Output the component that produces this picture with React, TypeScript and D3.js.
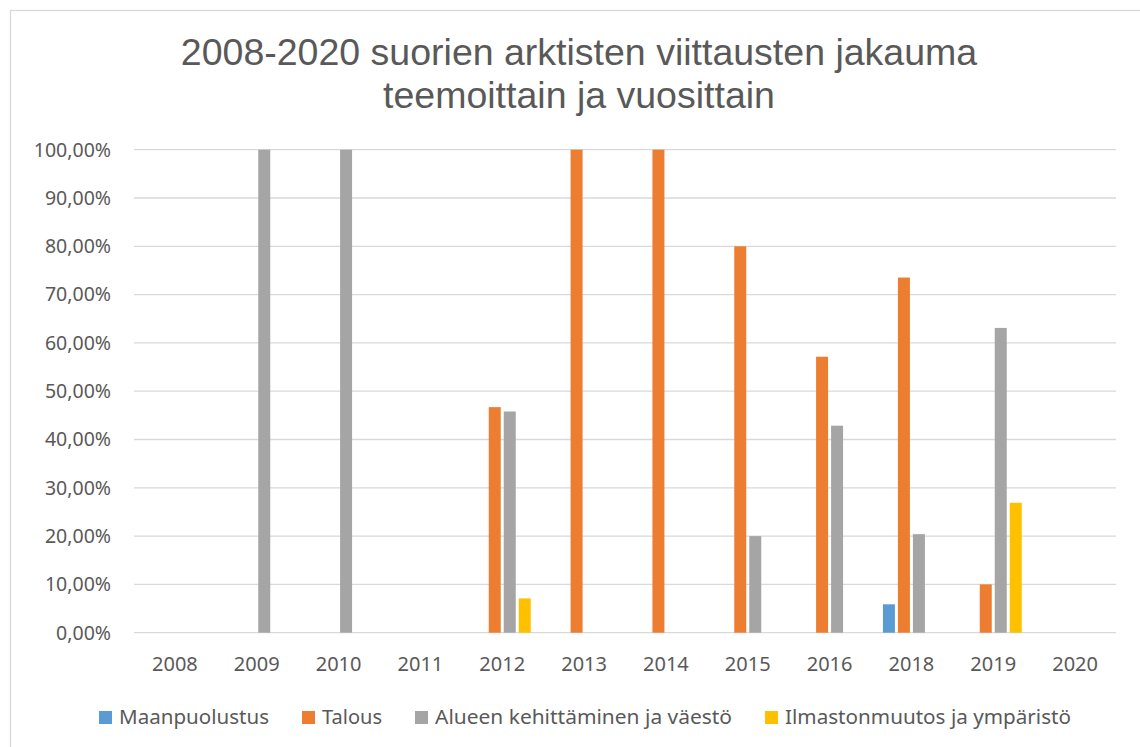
import React, { useRef, useEffect } from "react";
import * as d3 from "d3";

const years = ["2008", "2009", "2010", "2011", "2012", "2013", "2014", "2015", "2016", "2018", "2019", "2020"];

const seriesNames = ["Maanpuolustus", "Talous", "Alueen kehittäminen ja väestö", "Ilmastonmuutos ja ympäristö"];
const seriesColors = ["#5B9BD5", "#ED7D31", "#A5A5A5", "#FFC000"];

// percent values per year, null = no bar
const maanpuolustus = [null, null, null, null, null, null, null, null, null, 5.88, null, null];
const talous = [null, null, null, null, 46.7, 100, 100, 80, 57.14, 73.53, 10, null];
const alueen = [null, 100, 100, null, 45.8, null, null, 20, 42.86, 20.4, 63.1, null];
const ilmasto = [null, null, null, null, 7.1, null, null, null, null, null, 26.9, null];

const yTicks = [0, 10, 20, 30, 40, 50, 60, 70, 80, 90, 100];

const titleLines = ["2008-2020 suorien arktisten viittausten jakauma", "teemoittain ja vuosittain"];

const App = () => {
  const svgRef = useRef(null);

  useEffect(() => {
    const svg = d3.select(svgRef.current);
    svg.selectAll("*").remove();

    const width = 1140;
    const height = 747;
    const margin = { top: 149.7, right: 24, bottom: 114.3, left: 134 };
    const textColor = "#595959";
    const font = "'Noto Sans', sans-serif";

    // chart frame (right and bottom edges fall outside the picture)
    svg
      .append("rect")
      .attr("x", 10.5)
      .attr("y", 10.5)
      .attr("width", 1140)
      .attr("height", 760)
      .attr("fill", "#fff")
      .attr("stroke", "#D9D9D9")
      .attr("stroke-width", 1.3);

    // title
    svg
      .append("g")
      .selectAll("text")
      .data(titleLines)
      .join("text")
      .attr("x", 579)
      .attr("y", (d, i) => 65 + i * 43)
      .attr("text-anchor", "middle")
      .attr("font-family", "'Liberation Sans', Arial, sans-serif")
      .attr("font-size", 37.5)
      .attr("fill", textColor)
      .text((d) => d);

    const x = d3
      .scaleBand()
      .domain(years)
      .range([margin.left, width - margin.right]);

    const x1 = d3.scaleBand().domain(seriesNames).range([-28.5, 28.5]).paddingInner(0.2);

    const y = d3
      .scaleLinear()
      .domain([0, 100])
      .range([height - margin.bottom, margin.top]);

    // gridlines
    svg
      .append("g")
      .selectAll("line")
      .data(yTicks)
      .join("line")
      .attr("x1", margin.left)
      .attr("x2", width - margin.right)
      .attr("y1", (d) => y(d))
      .attr("y2", (d) => y(d))
      .attr("stroke", "#D9D9D9")
      .attr("stroke-width", 1.3);

    // y labels
    const fmt = (d) => d3.format(".2f")(d).replace(".", ",") + "%";
    svg
      .append("g")
      .selectAll("text")
      .data(yTicks)
      .join("text")
      .attr("x", 111)
      .attr("y", (d) => y(d))
      .attr("dy", "0.35em")
      .attr("text-anchor", "end")
      .attr("font-family", font)
      .attr("font-size", 19.5)
      .attr("fill", textColor)
      .text(fmt);

    // x labels
    svg
      .append("g")
      .selectAll("text")
      .data(years)
      .join("text")
      .attr("x", (d) => x(d) + x.bandwidth() / 2)
      .attr("y", 671)
      .attr("text-anchor", "middle")
      .attr("font-family", font)
      .attr("font-size", 20)
      .attr("fill", textColor)
      .text((d) => d);

    // bars
    const allSeries = [maanpuolustus, talous, alueen, ilmasto];
    allSeries.forEach((values, si) => {
      const name = seriesNames[si];
      svg
        .append("g")
        .selectAll("rect")
        .data(values.map((v, i) => ({ year: years[i], v })).filter((d) => d.v != null))
        .join("rect")
        .attr("x", (d) => x(d.year) + x.bandwidth() / 2 + x1(name))
        .attr("width", x1.bandwidth())
        .attr("y", (d) => y(d.v))
        .attr("height", (d) => y(0) - y(d.v))
        .attr("fill", seriesColors[si]);
    });

    // legend
    const legendWidths = [150, 60, 297, 286];
    let lx = 99;
    const legend = svg.append("g");
    seriesNames.forEach((name, i) => {
      legend
        .append("rect")
        .attr("x", lx)
        .attr("y", 711)
        .attr("width", 13)
        .attr("height", 13)
        .attr("fill", seriesColors[i]);
      legend
        .append("text")
        .attr("x", lx + 20)
        .attr("y", 724)
        .attr("font-family", font)
        .attr("font-size", 20)
        .attr("fill", textColor)
        .attr("textLength", legendWidths[i])
        .attr("lengthAdjust", "spacingAndGlyphs")
        .text(name);
      lx += 20 + legendWidths[i] + 33;
    });
  }, []);

  return (
    <svg
      ref={svgRef}
      width={1140}
      height={747}
      style={{ position: "absolute", left: 0, top: 0, background: "#fff" }}
    ></svg>
  );
};

export default App;
